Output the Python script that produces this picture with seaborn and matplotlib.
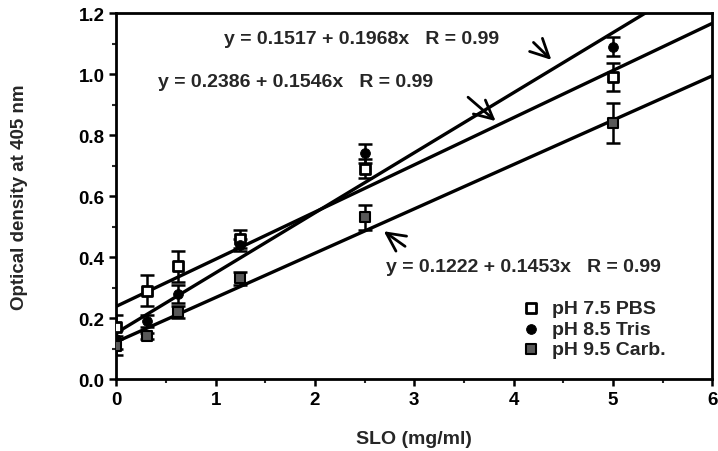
import numpy as np
import pandas as pd
import matplotlib
matplotlib.use("Agg")
import matplotlib.pyplot as plt
import seaborn as sns

# data
slo = [0, 0.3125, 0.625, 1.25, 2.5, 5]

pbs = [0.17, 0.29, 0.37, 0.46, 0.69, 0.99]
pbs_err = [0.04, 0.05, 0.05, 0.03, 0.03, 0.045]

tris = [0.13, 0.19, 0.28, 0.44, 0.74, 1.09]
tris_err = [0.03, 0.02, 0.03, 0.02, 0.03, 0.03]

carb = [0.11, 0.14, 0.22, 0.33, 0.53, 0.84]
carb_err = [0.03, 0.01, 0.02, 0.02, 0.04, 0.065]

# fitted lines (intercept, slope) as printed on the chart
fit_tris = (0.1517, 0.1968)
fit_pbs = (0.2386, 0.1546)
fit_carb = (0.1222, 0.1453)

labels = ["pH 7.5 PBS", "pH 8.5 Tris", "pH 9.5 Carb."]

sns.set_theme(style="ticks")
plt.rcParams['font.family'] = ['Liberation Sans', 'DejaVu Sans']
plt.rcParams['font.weight'] = 'bold'

fig = plt.figure(figsize=(7.18, 4.52), dpi=100)
ax = fig.add_axes([0.162, 0.159, 0.830, 0.810])

xx = np.array([0, 6])
for b, m in [fit_tris, fit_pbs, fit_carb]:
    ax.plot(xx, b + m * xx, color='black', lw=2.4, zorder=2)

for ys, es in [(pbs, pbs_err), (tris, tris_err), (carb, carb_err)]:
    ax.errorbar(slo, ys, yerr=es, fmt='none', ecolor='black',
                elinewidth=1.8, capsize=5, capthick=1.8, zorder=3)

df = pd.DataFrame({
    'SLO': slo * 3,
    'OD': pbs + tris + carb,
    'buffer': [labels[0]] * 6 + [labels[1]] * 6 + [labels[2]] * 6,
})

sns.scatterplot(data=df[df.buffer == labels[0]], x='SLO', y='OD', ax=ax,
                marker='s', s=55, color='white', edgecolor='black',
                linewidth=2, label=labels[0], zorder=4)
sns.scatterplot(data=df[df.buffer == labels[1]], x='SLO', y='OD', ax=ax,
                marker='o', s=50, color='black', edgecolor='black',
                label=labels[1], zorder=4)
sns.scatterplot(data=df[df.buffer == labels[2]], x='SLO', y='OD', ax=ax,
                marker='s', s=45, color='0.35', edgecolor='black',
                linewidth=1.5, label=labels[2], zorder=4)

ax.set_xlim(0, 6)
ax.set_ylim(0, 1.2)
ax.set_xticks(range(0, 7))
ax.set_xticks(np.arange(0.5, 6, 1), minor=True)
ax.set_yticks(np.arange(0, 1.21, 0.2))
ax.set_yticks(np.arange(0.1, 1.2, 0.2), minor=True)
ax.set_yticklabels([f"{v:.1f}" for v in np.arange(0, 1.21, 0.2)])

ax.tick_params(axis='both', which='major', direction='out', length=5,
               width=1.8, labelsize=13.5, colors='black')
ax.tick_params(axis='both', which='minor', direction='out', length=3,
               width=1.5)
for s in ax.spines.values():
    s.set_linewidth(2)
    s.set_color('black')

ax.set_xlabel("SLO (mg/ml)", fontsize=14, fontweight='bold', labelpad=16)
ax.set_ylabel("Optical density at 405 nm", fontsize=13.5, fontweight='bold',
              labelpad=36)

txt = dict(fontsize=14, fontweight='bold', va='center', ha='left')
ax.text(1.08, 1.115, "y = 0.1517 + 0.1968x   R = 0.99", **txt)
ax.text(0.42, 0.975, "y = 0.2386 + 0.1546x   R = 0.99", **txt)
ax.text(2.72, 0.368, "y = 0.1222 + 0.1453x   R = 0.99", **txt)

arr = dict(arrowstyle='->,head_length=1.1,head_width=0.55', lw=2,
           color='black')
ax.annotate("", xy=(4.4, 1.04), xytext=(4.18, 1.11), arrowprops=arr)
ax.annotate("", xy=(3.84, 0.84), xytext=(3.52, 0.93), arrowprops=arr)
ax.annotate("", xy=(2.67, 0.49), xytext=(2.93, 0.43), arrowprops=arr)

leg = ax.legend(loc='lower right', frameon=False, fontsize=14,
                handlelength=1.2, handletextpad=0.5, labelspacing=0.15,
                borderaxespad=0.3, bbox_to_anchor=(0.945, 0.02))
for t in leg.get_texts():
    t.set_fontweight('bold')

fig.savefig("out.png", dpi=100)
